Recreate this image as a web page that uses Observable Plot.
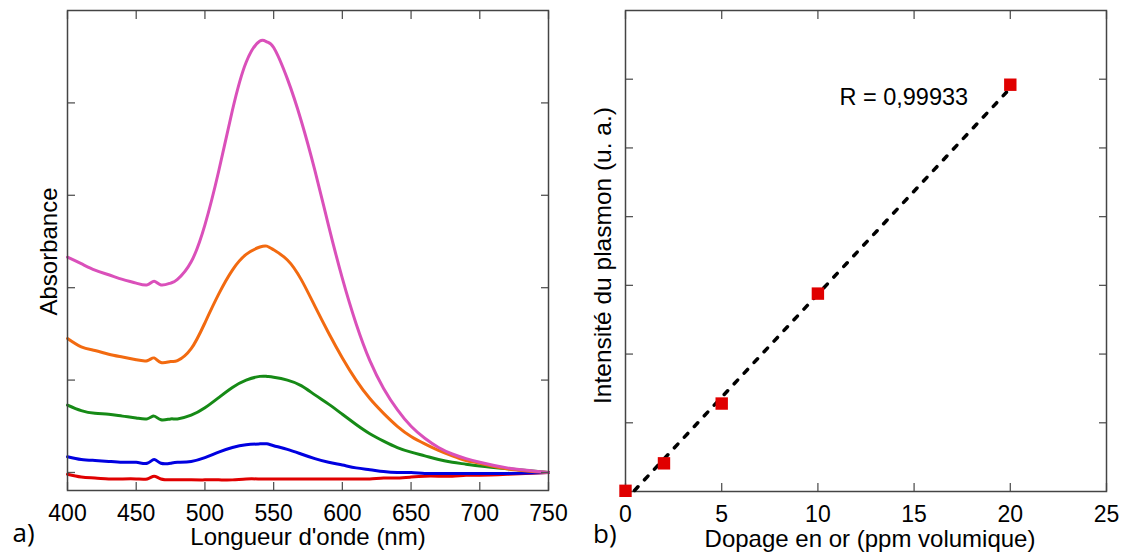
<!DOCTYPE html>
<html><head><meta charset="utf-8">
<script src="https://cdn.jsdelivr.net/npm/d3@7"></script>
<script src="https://cdn.jsdelivr.net/npm/@observablehq/plot@0.6"></script>
<style>
html,body{margin:0;padding:0;background:#fff;}
#wrap{display:flex;width:1123px;height:554px;overflow:hidden;}
#wrap svg{display:block;}
</style></head><body><div id="wrap"></div>
<script>
// ---- Panel a) : absorption spectra ----
const wavelengths = [400,410,420,430,440,450,458,463,468,475,480,490,500,510,520,530,540,545,550,560,570,580,590,600,610,620,630,640,650,660,670,680,690,700,720,750];
const abs0ppm  = [-0.002,-0.005,-0.006,-0.007,-0.007,-0.007,-0.007,-0.004,-0.007,-0.008,-0.008,-0.008,-0.008,-0.008,-0.008,-0.007,-0.007,-0.007,-0.007,-0.007,-0.007,-0.007,-0.007,-0.007,-0.007,-0.007,-0.006,-0.006,-0.005,-0.004,-0.004,-0.004,-0.003,-0.003,-0.002,0.000];
const abs2ppm  = [0.017,0.014,0.013,0.012,0.011,0.011,0.010,0.014,0.010,0.010,0.011,0.012,0.016,0.022,0.027,0.030,0.031,0.031,0.029,0.025,0.020,0.015,0.011,0.008,0.005,0.003,0.001,0.000,0.000,-0.001,-0.001,-0.001,-0.001,-0.001,-0.001,0.000];
const abs5ppm  = [0.073,0.067,0.064,0.063,0.061,0.059,0.058,0.061,0.057,0.058,0.058,0.062,0.070,0.081,0.092,0.100,0.104,0.104,0.103,0.100,0.094,0.084,0.074,0.063,0.052,0.042,0.034,0.027,0.022,0.018,0.014,0.011,0.009,0.007,0.004,0.000];
const abs10ppm = [0.145,0.136,0.132,0.128,0.125,0.122,0.121,0.124,0.119,0.120,0.121,0.134,0.162,0.193,0.219,0.236,0.244,0.245,0.241,0.230,0.209,0.180,0.151,0.124,0.100,0.080,0.064,0.050,0.039,0.031,0.024,0.018,0.013,0.010,0.004,0.000];
const abs20ppm = [0.233,0.226,0.219,0.214,0.209,0.205,0.203,0.207,0.203,0.205,0.209,0.228,0.268,0.326,0.392,0.444,0.467,0.466,0.460,0.426,0.381,0.327,0.267,0.210,0.161,0.121,0.091,0.068,0.050,0.037,0.027,0.020,0.015,0.011,0.005,0.000];
const seriesNames  = ["0 ppm","2 ppm","5 ppm","10 ppm","20 ppm"];
const seriesColors = ["#e00000","#0000e0","#168a16","#f26a10","#da50ba"];
const spectra = [abs0ppm, abs2ppm, abs5ppm, abs10ppm, abs20ppm];
const drawOrder = [0, 2, 1, 3, 4];
const xTicksA = [400,450,500,550,600,650,700,750];
const yTicksA = [0,0.1,0.2,0.3,0.4];
const xDomainA = [400, 750];
const yDomainA = [-0.0195, 0.5];

// ---- Panel b) : plasmon intensity vs doping ----
const dopage = [0, 2, 5, 10, 20];
const intensite = [0.01, 0.41, 1.28, 2.88, 5.92];
const fitX = [0.47, 19.8];
const fitY = [0.015, 5.81];
const rText = ["R = 0,99933"];
const rPos = [11.12, 5.73];
const xTicksB = [0,5,10,15,20,25];
const yTicksB = [1,2,3,4,5,6];
const xDomainB = [0, 25];
const yDomainB = [0, 7];

const spectraTable = drawOrder.flatMap(i => wavelengths.map((w, j) => ({series: seriesNames[i], wl: w, a: spectra[i][j]})));
const pointsTable = dopage.map((d, i) => ({x: d, y: intensite[i]}));
const fitTable = fitX.map((x, i) => ({x, y: fitY[i]}));

const svgStyle = "font-family: 'Liberation Sans', Arial, sans-serif; font-size: 23px; background: none; overflow: visible;";
const tickCol = "#555";
const blank = () => "";

const left = Plot.plot({
  width: 560, height: 554,
  marginLeft: 67, marginRight: 12, marginTop: 10, marginBottom: 64,
  style: svgStyle,
  x: {domain: xDomainA},
  y: {domain: yDomainA},
  color: {domain: seriesNames, range: seriesColors},
  marks: [
    Plot.line(spectraTable, {x: "wl", y: "a", z: "series", stroke: "series", curve: "natural", strokeWidth: 3}),
    Plot.axisX(xTicksA, {anchor: "bottom", tickSize: -8, tickPadding: 22, label: null, stroke: tickCol, strokeWidth: 1.3}),
    Plot.axisX(xTicksA, {anchor: "top", tickSize: -8, tickFormat: blank, label: null, stroke: tickCol, strokeWidth: 1.3}),
    Plot.axisY(yTicksA, {anchor: "left", tickSize: -8, tickFormat: blank, label: null, stroke: tickCol, strokeWidth: 1.3}),
    Plot.axisY(yTicksA, {anchor: "right", tickSize: -8, tickFormat: blank, label: null, stroke: tickCol, strokeWidth: 1.3}),
    Plot.frame({stroke: "#444", strokeWidth: 1.5}),
    Plot.text(["Absorbance"], {text: d => d, frameAnchor: "left", rotate: -90, dx: -18.5, dy: 1, textAnchor: "middle", lineAnchor: "middle", fontSize: 24}),
    Plot.text(["Longueur d'onde (nm)"], {text: d => d, frameAnchor: "bottom", dy: 47, textAnchor: "middle", lineAnchor: "middle", fontSize: 24}),
    Plot.text(["a)"], {text: d => d, frameAnchor: "bottom-left", dx: -55, dy: 43, textAnchor: "start", lineAnchor: "middle", fontSize: 26, fontFamily: "Open Sans"})
  ]
});

const right = Plot.plot({
  width: 563, height: 554,
  marginLeft: 65, marginRight: 17, marginTop: 10, marginBottom: 63,
  style: svgStyle,
  x: {domain: xDomainB},
  y: {domain: yDomainB},
  marks: [
    Plot.axisX(xTicksB, {anchor: "bottom", tickSize: -8, tickPadding: 22, label: null, stroke: tickCol, strokeWidth: 1.3}),
    Plot.axisX(xTicksB, {anchor: "top", tickSize: -8, tickFormat: blank, label: null, stroke: tickCol, strokeWidth: 1.3}),
    Plot.axisY(yTicksB, {anchor: "left", tickSize: -8, tickFormat: blank, label: null, stroke: tickCol, strokeWidth: 1.3}),
    Plot.axisY(yTicksB, {anchor: "right", tickSize: -8, tickFormat: blank, label: null, stroke: tickCol, strokeWidth: 1.3}),
    Plot.frame({stroke: "#444", strokeWidth: 1.5}),
    Plot.line(fitTable, {x: "x", y: "y", stroke: "#000", strokeWidth: 3.5, strokeDasharray: "5,9.6", strokeLinecap: "round"}),
    Plot.dot(pointsTable, {x: "x", y: "y", symbol: "square", r: 7, fill: "#e00000", stroke: "none"}),
    Plot.text(rText, {text: d => d, x: () => rPos[0], y: () => rPos[1], textAnchor: "start", lineAnchor: "middle", fontSize: 23.5}),
    Plot.text(["Intensité du plasmon (u. a.)"], {text: d => d, frameAnchor: "left", rotate: -90, dx: -22, dy: 4.5, textAnchor: "middle", lineAnchor: "middle", fontSize: 24.5}),
    Plot.text(["Dopage en or (ppm volumique)"], {text: d => d, frameAnchor: "bottom", dx: 4, dy: 48, textAnchor: "middle", lineAnchor: "middle", fontSize: 24}),
    Plot.text(["b)"], {text: d => d, frameAnchor: "bottom-left", dx: -32.5, dy: 43, textAnchor: "start", lineAnchor: "middle", fontSize: 26, fontFamily: "Open Sans"})
  ]
});

document.getElementById("wrap").append(left, right);
</script></body></html>
